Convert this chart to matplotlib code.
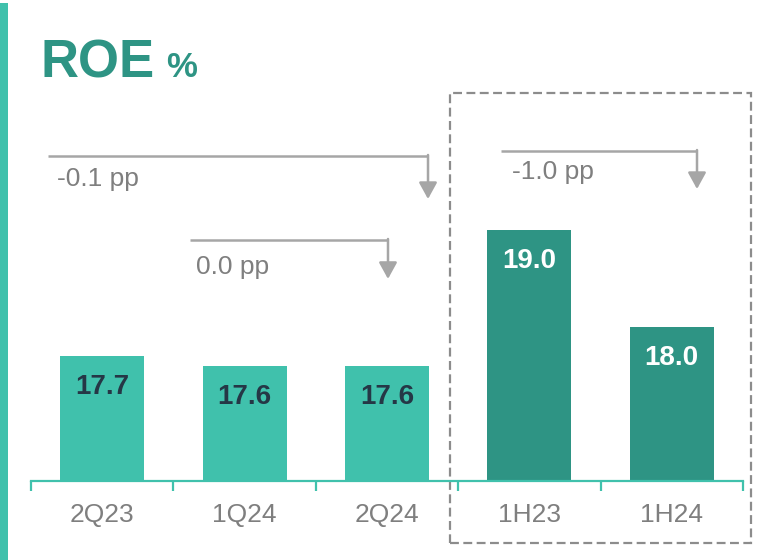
import matplotlib
matplotlib.use("Agg")
import matplotlib.pyplot as plt
from matplotlib.patches import Rectangle

plt.rcParams['font.family'] = ['Liberation Sans', 'DejaVu Sans']

# data
categories = ["2Q23", "1Q24", "2Q24", "1H23", "1H24"]
roe = [17.7, 17.6, 17.6, 19.0, 18.0]
value_labels = ["17.7", "17.6", "17.6", "19.0", "18.0"]
changes = ["-0.1 pp", "0.0 pp", "-1.0 pp"]

light = "#40C1AC"
dark = "#2E9484"
bar_colors = [light, light, light, dark, dark]
label_colors = ["#253746", "#253746", "#253746", "white", "white"]
gray_txt = "#7F7F7F"
gray_arrow = "#A6A6A6"

W, H = 779, 560
fig = plt.figure(figsize=(W / 100, H / 100), dpi=100)
fig.patch.set_facecolor("white")

# axes placed by pixels: x axis line at y=481, categories from x=31 to 743
ax = fig.add_axes([31 / W, (H - 481) / H, 712 / W, 441 / H])
ax.set_facecolor("none")
x = list(range(len(categories)))
ax.bar(x, [v - 16.41 for v in roe], bottom=16.41, width=0.59, color=bar_colors)
ax.set_xlim(-0.5, 4.5)
ax.set_ylim(16.41, 16.41 + 441 / 97)

for i, v in enumerate(roe):
    ax.annotate(value_labels[i], (i, v), xytext=(0, -31), textcoords="offset pixels",
                ha="center", va="center", fontsize=20, fontweight="bold",
                color=label_colors[i])

for s in ["top", "right", "left"]:
    ax.spines[s].set_visible(False)
ax.spines["bottom"].set_color(light)
ax.spines["bottom"].set_linewidth(1.6)
ax.set_yticks([])
ax.set_xticks([i - 0.5 for i in range(len(categories) + 1)])
ax.set_xticklabels([])
ax.tick_params(axis="x", which="major", length=7, width=1.6, color=light)
ax.set_xticks(x, minor=True)
ax.set_xticklabels(categories, minor=True)
ax.tick_params(axis="x", which="minor", length=0, pad=16, labelsize=19, labelcolor=gray_txt)

# change brackets: (x start, x end, line y, tip y, text x, text y)
brackets = [
    (-0.381, 2.288, 19.761, 19.317, -0.315, 19.525),
    (0.617, 2.007, 18.895, 18.493, 0.661, 18.618),
    (2.801, 4.177, 19.812, 19.420, 2.880, 19.597),
]
for (x0, x1, yl, yt, tx, ty), lab in zip(brackets, changes):
    ax.plot([x0, x1], [yl, yl], color=gray_arrow, lw=1.8, clip_on=False,
            solid_capstyle="butt")
    ax.annotate("", xy=(x1, yt), xytext=(x1, yl + 0.01),
                arrowprops=dict(arrowstyle="-|>,head_length=1.0,head_width=0.55",
                                color=gray_arrow, lw=1.8, shrinkA=0, shrinkB=0,
                                mutation_scale=10),
                annotation_clip=False)
    ax.text(tx, ty, lab, fontsize=19, color=gray_txt, ha="left", va="center")

# dashed box around half-year figures
ax.add_patch(Rectangle((2.442, 15.77), 4.556 - 2.442, 20.41 - 15.77, fill=False,
                       ls=(0, (4, 2)), lw=1.6, edgecolor="#8C8C8C", clip_on=False))

# left accent strip and title
fig.add_artist(Rectangle((0, 0), 8 / W, 1 - 3 / H, transform=fig.transFigure,
                         color=light, lw=0))
fig.text(40 / W, 1 - 77 / H, "ROE", fontsize=38, fontweight="bold", color=dark,
         ha="left", va="baseline")
fig.text(166 / W, 1 - 77 / H, "%", fontsize=25, fontweight="bold", color=dark,
         ha="left", va="baseline")

fig.savefig("out.png", dpi=100)
